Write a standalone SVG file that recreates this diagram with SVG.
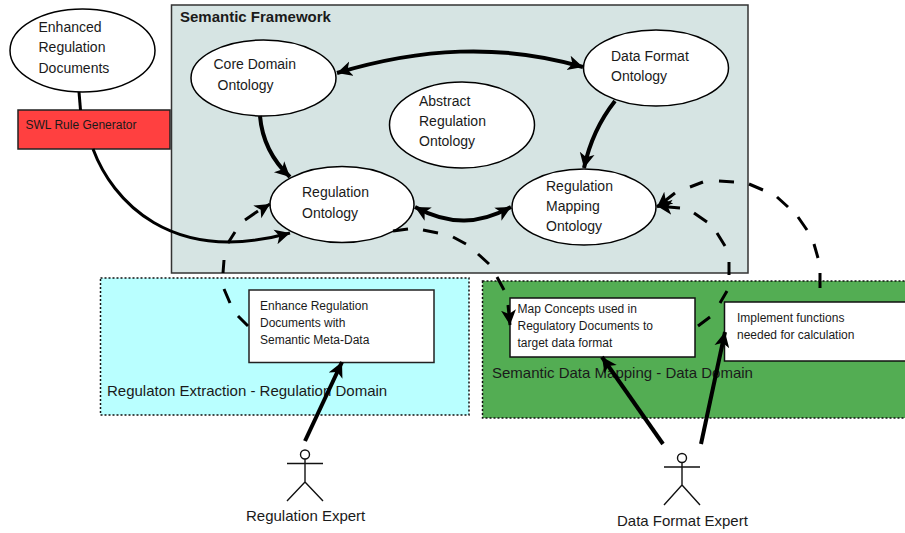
<svg xmlns="http://www.w3.org/2000/svg" width="905" height="533" viewBox="0 0 905 533">
<style>
text{font-family:"Liberation Sans",Arial,sans-serif;font-size:14px;fill:#1a1a1a}
.s{font-size:12px}
.l{font-size:15px}
.n{fill:#fff;stroke:#000;stroke-width:1.5}
.a{fill:none;stroke:#000;stroke-width:4;stroke-linecap:butt}
.t{stroke-width:3}
.d{stroke-width:3}
.actor{fill:none;stroke:#111;stroke-width:1.4}
</style>
<defs>
<marker id="e" markerUnits="userSpaceOnUse" markerWidth="18" markerHeight="18" refX="15" refY="8" orient="auto"><path d="M0 0.500 L15 8 L0 15.500 L4 8 Z" fill="#000"/></marker>
<marker id="s" markerUnits="userSpaceOnUse" markerWidth="18" markerHeight="18" refX="15" refY="8" orient="auto-start-reverse"><path d="M0 0.500 L15 8 L0 15.500 L4 8 Z" fill="#000"/></marker>
</defs>
<rect width="905" height="533" fill="#fff"/>
<g id="frame"><rect x="171.500" y="5" width="576.500" height="268" fill="#d6e4e3" stroke="#333" stroke-width="1.500"/><text class="l" x="180" y="22" style="font-weight:bold">Semantic Framework</text></g>
<g id="domain-regulation"><rect x="100.500" y="278" width="368.500" height="137" fill="#b9ffff" stroke="#111" stroke-width="1.500" stroke-dasharray="2 2"/><text class="l" x="107" y="396">Regulaton Extraction - Regulation Domain</text></g>
<g id="domain-data"><rect x="482.500" y="281" width="430" height="137" fill="#53ad53" stroke="#111" stroke-width="1.500" stroke-dasharray="2 2"/><text class="l" x="492" y="378">Semantic Data Mapping - Data Domain</text></g>
<g id="enhanced-docs"><ellipse class="n" cx="82.500" cy="50.500" rx="72.500" ry="41.500"/><text x="38.500" y="32">Enhanced</text><text x="38.500" y="52">Regulation</text><text x="38.500" y="73">Documents</text></g>
<g id="swl-generator"><rect x="18" y="110" width="152" height="39" fill="#ff4040" stroke="#222" stroke-width="1.500"/><text class="s" x="25.500" y="129">SWL Rule Generator</text></g>
<g id="core-domain"><ellipse class="n" cx="263.500" cy="78" rx="72.500" ry="38"/><text x="213.500" y="69">Core Domain</text><text x="217.500" y="90">Ontology</text></g>
<g id="abstract-regulation"><ellipse class="n" cx="462" cy="125" rx="72.500" ry="43"/><text x="419" y="106">Abstract</text><text x="419" y="126">Regulation</text><text x="419" y="146">Ontology</text></g>
<g id="data-format"><ellipse class="n" cx="656" cy="68" rx="72.500" ry="38"/><text x="611" y="61">Data Format</text><text x="611" y="81">Ontology</text></g>
<g id="regulation-ontology"><ellipse class="n" cx="342" cy="204.500" rx="72" ry="38"/><text x="302" y="197">Regulation</text><text x="302" y="218">Ontology</text></g>
<g id="regulation-mapping"><ellipse class="n" cx="584" cy="207" rx="72" ry="38"/><text x="546" y="191">Regulation</text><text x="546" y="211">Mapping</text><text x="546" y="231">Ontology</text></g>
<g id="enhance-task"><rect x="249" y="290" width="185" height="72.500" fill="#fff" stroke="#222" stroke-width="1.500"/><text class="s" x="260" y="310">Enhance Regulation</text><text class="s" x="260" y="327">Documents with</text><text class="s" x="260" y="344">Semantic Meta-Data</text></g>
<g id="map-task"><rect x="510" y="298" width="185" height="59" fill="#fff" stroke="#111" stroke-width="1.500"/><text class="s" x="517.500" y="313">Map Concepts used in</text><text class="s" x="517.500" y="330">Regulatory Documents to</text><text class="s" x="517.500" y="347">target data format</text></g>
<g id="implement-task"><rect x="724.500" y="302" width="190" height="59" fill="#fff" stroke="#111" stroke-width="1.500"/><text class="s" x="737" y="322">Implement functions</text><text class="s" x="737" y="339">needed for calculation</text></g>
<g id="regulation-expert"><circle class="actor" cx="305" cy="454.500" r="4.500"/><path class="actor" d="M287 463.500H323M305 459V482L287 501M305 482L323 501"/><text class="l" x="246" y="521">Regulation Expert</text></g>
<g id="data-format-expert"><circle class="actor" cx="682" cy="458" r="4.500"/><path class="actor" d="M664 467H700M682 462.500V485L664 505M682 485L700 505"/><text class="l" x="617" y="526">Data Format Expert</text></g>
<g id="connectors">
<path class="a t" d="M79 92L80.500 110"/>
<path class="a t" d="M93 149C112 200 170 266 290 233" marker-end="url(#e)"/>
<path class="a" d="M337 73C420 48 500 43 583 67" marker-start="url(#s)" marker-end="url(#e)"/>
<path class="a" d="M260 116C262 140 272 160 290 177" marker-end="url(#e)"/>
<path class="a" d="M615 101C600 120 590 140 584 168" marker-end="url(#e)"/>
<path class="a" d="M415 207C450 226 480 224 511 207" marker-start="url(#s)" marker-end="url(#e)"/>
<path class="a d" d="M248 326L238 316M230 303L224 289M223 273L224 260M228 243L235 232M245 220L258 211M262 209L270 204" marker-end="url(#e)"/>
<path class="a d" d="M393 231L408 229M423 230L438 233M453 237L466 244M478 254L489 264M497 277L504 290M508 305L510 325" marker-end="url(#e)"/>
<path class="a d" d="M698 326L710 317M720 303L727 291M729 275L729 262M725 246L717 233M707 222L694 213M680 208L657 206" marker-end="url(#e)"/>
<path class="a d" d="M820 288L820 273M818 258L814 244M807 230L798 217M788 207L777 197M763 190L749 184M734 182L719 181M703 182L690 187M675 193L657 207" marker-end="url(#e)"/>
<path class="a" d="M305 441L342 362" marker-end="url(#e)"/>
<path class="a" d="M663 444L602 357" marker-end="url(#e)"/>
<path class="a" d="M701 444L725 332" marker-end="url(#e)"/>
</g>
</svg>
